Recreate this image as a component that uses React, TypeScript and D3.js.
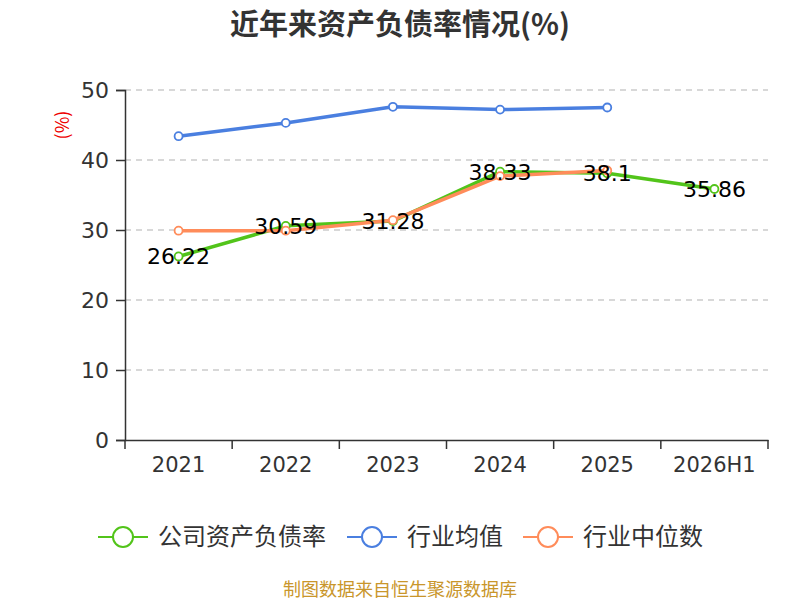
import { useRef, useEffect } from 'react'
import * as d3 from 'd3'

const categories = ['2021', '2022', '2023', '2024', '2025', '2026H1']
const companyValues = [26.22, 30.59, 31.28, 38.33, 38.1, 35.86]
const industryAvg = [43.4, 45.3, 47.6, 47.2, 47.5]
const industryMedian = [29.9, 29.9, 31.4, 37.7, 38.5]
const yTicks = [0, 10, 20, 30, 40, 50]

const SERIES = [
  { name: '公司资产负债率', color: '#52c41a', values: companyValues },
  { name: '行业均值', color: '#4a7fe0', values: industryAvg },
  { name: '行业中位数', color: '#ff8c5a', values: industryMedian },
]

const FONT = '"Noto Sans CJK SC", "Noto Sans", sans-serif'
const NUM_FONT = '"DejaVu Sans", sans-serif'

export default function App() {
  const svgRef = useRef<SVGSVGElement>(null)

  useEffect(() => {
    if (!svgRef.current) return
    const svg = d3.select(svgRef.current)
    svg.selectAll('*').remove()

    const width = 800
    const height = 600
    const margin = { top: 90, right: 32, bottom: 160, left: 125 }

    const x = d3.scaleBand()
      .domain(categories)
      .range([margin.left, width - margin.right])

    const y = d3.scaleLinear()
      .domain([0, 50])
      .range([height - margin.bottom, margin.top])

    // Title
    svg.append('text')
      .attr('x', 400).attr('y', 35)
      .attr('text-anchor', 'middle')
      .style('font-family', FONT).style('font-size', '29px').style('font-weight', 'bold')
      .style('fill', '#333')
      .text('近年来资产负债率情况(%)')

    // Y unit label
    svg.append('text')
      .attr('transform', `translate(63,125) rotate(-90)`)
      .attr('dy', '0.35em')
      .attr('text-anchor', 'middle')
      .style('font-family', FONT).style('font-size', '18px').style('fill', '#e00')
      .text('(%)')

    // Grid
    svg.append('g')
      .selectAll('line')
      .data(yTicks.filter(t => t > 0))
      .join('line')
      .attr('x1', margin.left).attr('x2', width - margin.right)
      .attr('y1', d => y(d)).attr('y2', d => y(d))
      .attr('stroke', '#ccc').attr('stroke-width', 1.3).attr('stroke-dasharray', '6,5')

    // Y axis
    const yAxis = svg.append('g')
      .attr('transform', `translate(${margin.left},0)`)
      .call(d3.axisLeft(y).tickValues(yTicks).tickSize(9).tickPadding(7))
    yAxis.select('.domain').attr('stroke', '#333').attr('stroke-width', 1.5)
    yAxis.selectAll('.tick line').attr('stroke', '#333').attr('stroke-width', 1.5)
    yAxis.selectAll('text')
      .style('font-family', NUM_FONT).style('font-size', '22px').style('fill', '#333')

    // X axis
    const xAxis = svg.append('g')
      .attr('transform', `translate(0,${y(0)})`)
      .call(d3.axisBottom(x).tickSize(0).tickPadding(17))
    xAxis.select('.domain').attr('stroke', '#333').attr('stroke-width', 1.5)
    xAxis.selectAll('text')
      .style('font-family', NUM_FONT).style('font-size', '21px').style('fill', '#333')
    const bounds = [...categories.map(c => x(c)!), x.range()[1]]
    xAxis.selectAll('.bound')
      .data(bounds)
      .join('line')
      .attr('class', 'bound')
      .attr('x1', d => d).attr('x2', d => d)
      .attr('y1', 0).attr('y2', 9)
      .attr('stroke', '#333').attr('stroke-width', 1.5)

    const cx = (i: number) => x(categories[i])! + x.bandwidth() / 2

    SERIES.forEach(s => {
      const line = d3.line<number>()
        .x((_, i) => cx(i))
        .y(d => y(d))
      svg.append('path')
        .datum(s.values)
        .attr('d', line)
        .attr('fill', 'none')
        .attr('stroke', s.color)
        .attr('stroke-width', 3.5)
        .attr('stroke-linejoin', 'round')
      svg.append('g')
        .selectAll('circle')
        .data(s.values)
        .join('circle')
        .attr('cx', (_, i) => cx(i))
        .attr('cy', d => y(d))
        .attr('r', 4)
        .attr('fill', '#fff')
        .attr('stroke', s.color)
        .attr('stroke-width', 1.8)
    })

    // Data labels for company series
    svg.append('g')
      .selectAll('text')
      .data(companyValues)
      .join('text')
      .attr('x', (_, i) => cx(i))
      .attr('y', d => y(d))
      .attr('dy', '0.36em')
      .attr('text-anchor', 'middle')
      .style('font-family', NUM_FONT).style('font-size', '22px').style('fill', '#000')
      .text(d => String(d))

    // Legend
    const legendItems = [
      { x: 98, ...SERIES[0] },
      { x: 347, ...SERIES[1] },
      { x: 523, ...SERIES[2] },
    ]
    const ly = 537
    legendItems.forEach(item => {
      const g = svg.append('g').attr('transform', `translate(${item.x},${ly})`)
      g.append('line').attr('x1', 0).attr('x2', 50).attr('y1', 0).attr('y2', 0)
        .attr('stroke', item.color).attr('stroke-width', 2)
      g.append('circle').attr('cx', 25).attr('cy', 0).attr('r', 10)
        .attr('fill', '#fff').attr('stroke', item.color).attr('stroke-width', 2)
      g.append('text').attr('x', 60).attr('y', 0).attr('dy', '0.35em')
        .style('font-family', FONT).style('font-size', '24px').style('fill', '#333')
        .text(item.name)
    })

    // Footer
    svg.append('text')
      .attr('x', 400).attr('y', 590)
      .attr('dy', '0.35em')
      .attr('text-anchor', 'middle')
      .style('font-family', FONT).style('font-size', '18px').style('fill', '#c9962b')
      .text('制图数据来自恒生聚源数据库')
  }, [])

  return (
    <svg
      ref={svgRef}
      width={800}
      height={600}
      style={{ position: 'fixed', top: 0, left: 0, display: 'block', background: '#fff' }}
    />
  )
}
